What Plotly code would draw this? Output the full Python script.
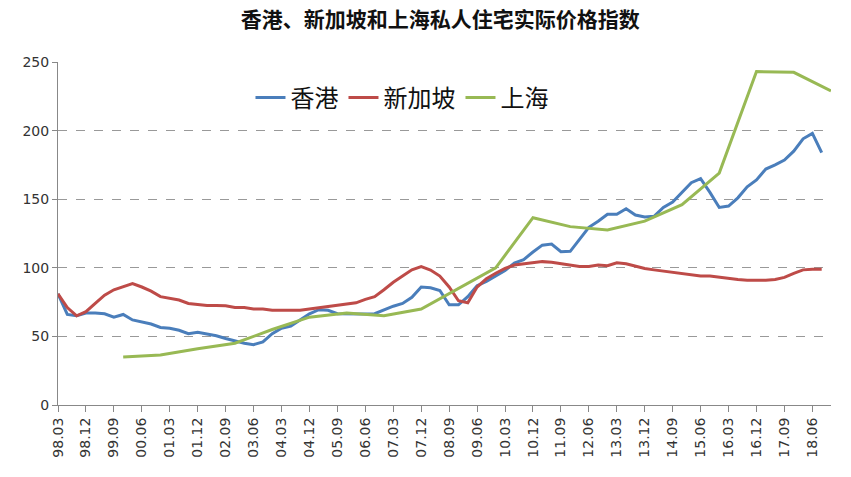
import plotly.graph_objects as go

# Quarterly categories 98.03 ... 18.12
quarters = []
for y in range(1998, 2019):
    for m in ("03", "06", "09", "12"):
        quarters.append(f"{y % 100:02d}.{m}")

tick_labels = quarters[::3]

hk_values = [81, 66, 65, 67, 67, 66.5, 64, 66, 62, 60.5,
             59, 56.5, 56, 54.5, 52, 53, 52, 50.5, 48.5, 46.5,
             45, 44, 46, 52, 56, 57.5, 62, 66.5, 69.5, 69,
             66.5, 66.3, 66.3, 66.3, 66.5, 69.5, 72, 74, 78.5, 86,
             85.5, 83.5, 73, 73, 79, 87, 90, 94, 98, 103.5,
             106, 111.5, 116.5, 117.3, 111.7, 112, 120.5, 129.5, 134, 139,
             139, 143, 138.5, 137, 137.5, 144, 148, 155, 162, 165,
             155, 144, 145, 151, 159, 164, 172, 175, 178.5, 185,
             194, 198, 184]

sg_values = [81, 71, 65, 68, 74, 80, 84, 86, 88.5, 86,
             83, 79, 78, 76.5, 74, 73, 72.5, 72.5, 72.3, 71,
             71, 70, 70, 69, 69, 69, 69, 70, 71, 71.5,
             72.5, 73.5, 74.5, 77, 79, 84, 89.5, 94, 98.5, 100.8,
             98.4, 94, 86, 76, 74.5, 86, 92, 96, 99.5, 102,
             103, 103.5, 104.5, 104, 103, 102, 101, 101, 102, 101.5,
             103.7, 103, 101, 99.5, 98.5, 97.5, 97, 96, 95, 94,
             94, 93, 92.5, 91.5, 91, 90.8, 91, 91.5, 93, 96,
             98.5, 99, 99]

sh_quarters = ["99.12", "00.12", "01.12", "02.12", "03.12", "04.12", "05.12",
               "06.12", "07.12", "08.12", "09.12", "10.12", "11.12", "12.12",
               "13.12", "14.12", "15.12", "16.12", "17.12", "18.12"]
sh_values = [35, 36.5, 41, 45, 55, 64, 67, 65, 70, 85,
             100, 136.5, 130, 127.6, 134, 146, 169, 243, 242.5, 229]

fig = go.Figure()
fig.add_trace(go.Scatter(x=quarters[:len(hk_values)], y=hk_values, mode="lines",
                         name="香港", line=dict(color="#4A7EBB", width=3)))
fig.add_trace(go.Scatter(x=quarters[:len(sg_values)], y=sg_values, mode="lines",
                         name="新加坡", line=dict(color="#BE4B48", width=3)))
fig.add_trace(go.Scatter(x=sh_quarters, y=sh_values, mode="lines",
                         name="上海", line=dict(color="#98B954", width=3)))

fig.update_layout(
    width=851, height=477,
    margin=dict(l=50, r=28, t=54, b=80),
    paper_bgcolor="white", plot_bgcolor="white",
    font=dict(family="Noto Sans CJK SC, Liberation Sans, sans-serif", color="#333"),
    title=dict(text="<b>香港、新加坡和上海私人住宅实际价格指数</b>",
               x=0.508, xanchor="center", y=0.99, yanchor="top",
               pad=dict(t=0, b=0),
               font=dict(size=21, color="#111",
                         family="Noto Sans CJK SC, sans-serif")),
    showlegend=True,
    legend=dict(orientation="h", x=0.445, xanchor="center", y=0.895, yanchor="middle",
                font=dict(size=24, color="#111"), bgcolor="rgba(0,0,0,0)",
                itemwidth=30, tracegroupgap=0),
    xaxis=dict(type="category", categoryorder="array", categoryarray=quarters,
               range=[0, len(quarters) - 1], automargin=False,
               tickmode="array", tickvals=tick_labels, ticktext=tick_labels,
               tickangle=-90, ticks="outside", ticklen=6, tickcolor="#888",
               showline=True, linecolor="#888", linewidth=1,
               showgrid=False, zeroline=False,
               tickfont=dict(size=14, color="#333", family="DejaVu Sans")),
    yaxis=dict(range=[0, 250], tickvals=[0, 50, 100, 150, 200, 250],
               automargin=False,
               ticks="outside", ticklen=5, tickcolor="#888",
               showline=True, linecolor="#888", linewidth=1,
               showgrid=True, gridcolor="#999", griddash="dash", gridwidth=1,
               zeroline=False,
               tickfont=dict(size=14, color="#333", family="DejaVu Sans")),
)

fig.write_html("out.html")
